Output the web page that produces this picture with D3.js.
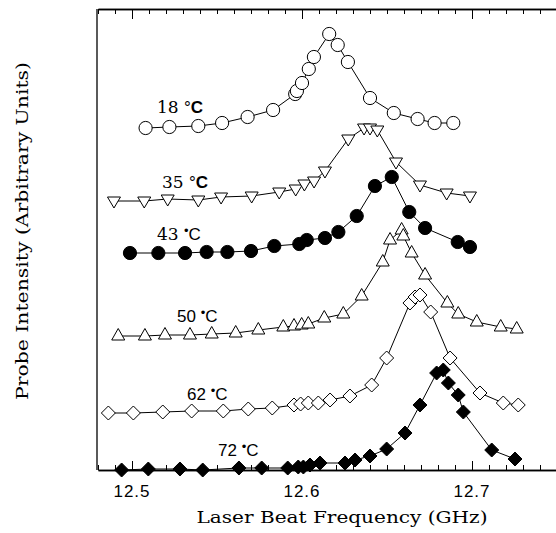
<!DOCTYPE html>
<html>
<head>
<meta charset="utf-8">
<script src="https://cdn.jsdelivr.net/npm/d3@7"></script>
<style>
  html, body { margin: 0; padding: 0; background: #fff; }
  svg { display: block; }
</style>
</head>
<body>
<svg id="chart" width="556" height="533"></svg>
<script>
// ---------- DATA (intensity in arbitrary units) ----------
const freq18 = [12.508, 12.522, 12.539, 12.553, 12.568, 12.583, 12.596, 12.597, 12.600, 12.604, 12.607, 12.616, 12.621, 12.627, 12.640, 12.654, 12.668, 12.678, 12.689];
const int18  = [34.2, 34.3, 34.4, 34.7, 35.3, 36.0, 37.6, 37.9, 38.7, 40.1, 41.3, 43.6, 42.5, 40.8, 37.2, 35.7, 35.1, 34.7, 34.7];

const freq35 = [12.4894, 12.5072, 12.5210, 12.5390, 12.5524, 12.5704, 12.5866, 12.5963, 12.6014, 12.6071, 12.6135, 12.6272, 12.6365, 12.6400, 12.6443, 12.6553, 12.6694, 12.6851, 12.6988];
const int35  = [26.9, 26.9, 27.1, 27.0, 27.3, 27.4, 27.8, 28.1, 28.6, 28.9, 29.9, 33.1, 34.2, 34.2, 34.0, 30.8, 28.5, 27.7, 27.4];

const freq43 = [12.4988, 12.5155, 12.5312, 12.5439, 12.5561, 12.5700, 12.5837, 12.5984, 12.6028, 12.6135, 12.6214, 12.6322, 12.6429, 12.6528, 12.6631, 12.6724, 12.6916, 12.6988];
const int43  = [21.7, 21.7, 21.7, 21.8, 21.8, 21.9, 22.4, 22.6, 23.0, 23.2, 23.8, 25.4, 28.4, 29.3, 25.8, 24.2, 22.8, 22.3];

const freq50 = [12.4919, 12.5076, 12.5194, 12.5341, 12.5469, 12.5610, 12.5743, 12.5890, 12.5953, 12.5998, 12.6037, 12.6131, 12.6243, 12.6351, 12.6475, 12.6518, 12.6586, 12.6596, 12.6645, 12.6724, 12.6855, 12.6919, 12.7028, 12.7169, 12.7263];
const int50  = [13.4, 13.4, 13.5, 13.5, 13.6, 13.7, 14.0, 14.3, 14.4, 14.5, 14.6, 15.2, 15.6, 17.4, 20.8, 23.0, 24.0, 23.4, 21.7, 19.5, 16.7, 15.6, 14.8, 14.3, 14.1];

const freq62 = [12.4861, 12.5008, 12.5181, 12.5351, 12.5537, 12.5684, 12.5825, 12.5953, 12.5992, 12.6037, 12.6096, 12.6165, 12.6282, 12.6410, 12.6498, 12.6635, 12.6665, 12.6694, 12.6757, 12.6871, 12.7047, 12.7184, 12.7272];
const int62  = [5.7, 5.7, 5.8, 5.9, 5.9, 6.1, 6.2, 6.5, 6.6, 6.7, 6.7, 7.0, 7.4, 8.5, 11.2, 16.7, 17.3, 17.5, 15.8, 11.2, 7.7, 6.7, 6.5];

const freq72 = [12.4939, 12.5096, 12.5282, 12.5416, 12.5629, 12.5763, 12.5916, 12.5978, 12.6008, 12.6047, 12.6106, 12.6253, 12.6312, 12.6400, 12.6498, 12.6606, 12.6694, 12.6792, 12.6831, 12.6861, 12.6919, 12.6949, 12.7116, 12.7253];
const int72  = [0.0, 0.1, 0.1, 0.0, 0.2, 0.2, 0.2, 0.3, 0.3, 0.5, 0.7, 0.7, 1.0, 1.4, 2.1, 3.7, 6.5, 9.7, 10.0, 8.7, 7.5, 5.8, 2.0, 1.1];

const seriesNames   = ["18", "35", "43", "50", "62", "72"];
const seriesMarkers = ["circleOpen", "triDownOpen", "circleFilled", "triUpOpen", "diamondOpen", "diamondFilled"];
const seriesFreqs   = [freq18, freq35, freq43, freq50, freq62, freq72];
const seriesInts    = [int18, int35, int43, int50, int62, int72];

// curve labels: number, degree glyph, anchor freq, anchor intensity
const labelNums  = ["18", "35", "43", "50", "62", "72"];
const labelDegs  = ["°", "°", "•", "•", "•", "•"];
const labelFreq  = [12.5147, 12.5176, 12.5147, 12.5265, 12.5324, 12.5506];
const labelInt   = [35.7, 28.2, 23.0, 14.8, 7.0, 1.4];

const xMajorTicks = [12.5, 12.6, 12.7];
const xTickLabels = ["12.5", "12.6", "12.7"];
const xTitle = "Laser Beat Frequency (GHz)";
const yTitle = "Probe Intensity (Arbitrary Units)";

// ---------- CHART ----------
const svg = d3.select("#chart");
const x = d3.scaleLinear().domain([12.48, 12.75]).range([98, 557]);
const y = d3.scaleLinear().domain([0, 46]).range([470, 10]);
const yTop = 9, yBot = 470, xLeft = 97;

const minor = d3.range(12480, 12751, 10).map(v => v / 1000)
  .filter(v => !xMajorTicks.some(m => Math.abs(m - v) < 1e-6));

// bottom axis (inward ticks)
const gb = svg.append("g").attr("transform", `translate(0,${yBot})`);
gb.call(d3.axisBottom(x).tickValues(minor).tickSize(-5).tickSizeOuter(0).tickFormat(""));
gb.append("g").call(d3.axisBottom(x).tickValues(xMajorTicks).tickSize(-9).tickSizeOuter(0).tickFormat(""));
// top axis (inward ticks)
const gt = svg.append("g").attr("transform", `translate(0,${yTop})`);
gt.call(d3.axisTop(x).tickValues(minor).tickSize(-5).tickSizeOuter(0).tickFormat(""));
gt.append("g").call(d3.axisTop(x).tickValues(xMajorTicks).tickSize(-10).tickSizeOuter(0).tickFormat(""));
svg.selectAll(".domain").attr("stroke", "#000").attr("stroke-width", 1.3);
svg.selectAll(".tick line").attr("stroke", "#000").attr("stroke-width", 1);
// left axis line
svg.append("line").attr("x1", xLeft).attr("x2", xLeft).attr("y1", yTop).attr("y2", yBot)
  .attr("stroke", "#000").attr("stroke-width", 1.3);

// tick labels
svg.append("g").selectAll("text").data(xMajorTicks).join("text")
  .attr("x", d => x(d)).attr("y", 497)
  .attr("text-anchor", "middle")
  .attr("font-family", "Liberation Sans, Arial, sans-serif")
  .attr("font-size", 17).attr("letter-spacing", 1)
  .text((d, i) => xTickLabels[i]);

// axis titles
svg.append("text").attr("x", 342).attr("y", 523).attr("text-anchor", "middle")
  .attr("font-family", "DejaVu Serif, serif").attr("font-size", 16)
  .attr("textLength", 291).attr("lengthAdjust", "spacingAndGlyphs")
  .text(xTitle);
svg.append("text").attr("transform", "translate(28,231) rotate(-90)").attr("text-anchor", "middle")
  .attr("font-family", "DejaVu Serif, serif").attr("font-size", 16)
  .attr("textLength", 338).attr("lengthAdjust", "spacingAndGlyphs")
  .text(yTitle);

// marker paths
function markerPath(kind) {
  switch (kind) {
    case "circleOpen":
    case "circleFilled": return d3.symbol(d3.symbolCircle, Math.PI * 6.6 * 6.6)();
    case "triUpOpen": return "M0,-7.5L6.5,4L-6.5,4Z";
    case "triDownOpen": return "M0,7L6.5,-4L-6.5,-4Z";
    case "diamondOpen":
    case "diamondFilled": return "M0,-7L7,0L0,7L-7,0Z";
  }
}

const line = d3.line().x(d => x(d[0])).y(d => y(d[1]));
seriesNames.forEach((name, si) => {
  const pts = seriesFreqs[si].map((f, i) => [f, seriesInts[si][i]]);
  const g = svg.append("g").attr("class", "series s" + name);
  g.append("path").datum(pts).attr("d", line)
    .attr("fill", "none").attr("stroke", "#000").attr("stroke-width", 1);
  const kind = seriesMarkers[si];
  const filled = kind.endsWith("Filled");
  g.selectAll("path.m").data(pts).join("path").attr("class", "m")
    .attr("transform", d => `translate(${x(d[0])},${y(d[1])})`)
    .attr("d", markerPath(kind))
    .attr("fill", filled ? "#000" : "#fff")
    .attr("stroke", "#000").attr("stroke-width", 1);
});

// curve labels
labelNums.forEach((num, i) => {
  const t = svg.append("text")
    .attr("x", x(labelFreq[i])).attr("y", y(labelInt[i]))
    .attr("font-size", 17).attr("fill", "#000");
  t.append("tspan").attr("font-family", i < 3 ? "DejaVu Serif, serif" : "Liberation Sans, Arial, sans-serif").text(num + " ");
  if (labelDegs[i] === "°") {
    t.append("tspan").attr("font-family", "Liberation Sans, Arial, sans-serif")
      .attr("font-size", 17).text(labelDegs[i]);
    t.append("tspan").attr("font-family", "Liberation Sans, Arial, sans-serif")
      .attr("font-weight", "bold").text("C");
  } else {
    t.append("tspan").attr("font-family", "Liberation Sans, Arial, sans-serif")
      .attr("font-size", 13).attr("dy", -5).text(labelDegs[i]);
    t.append("tspan").attr("font-family", "Liberation Sans, Arial, sans-serif")
      .attr("dy", 5).text("C");
  }
});
</script>
</body>
</html>
